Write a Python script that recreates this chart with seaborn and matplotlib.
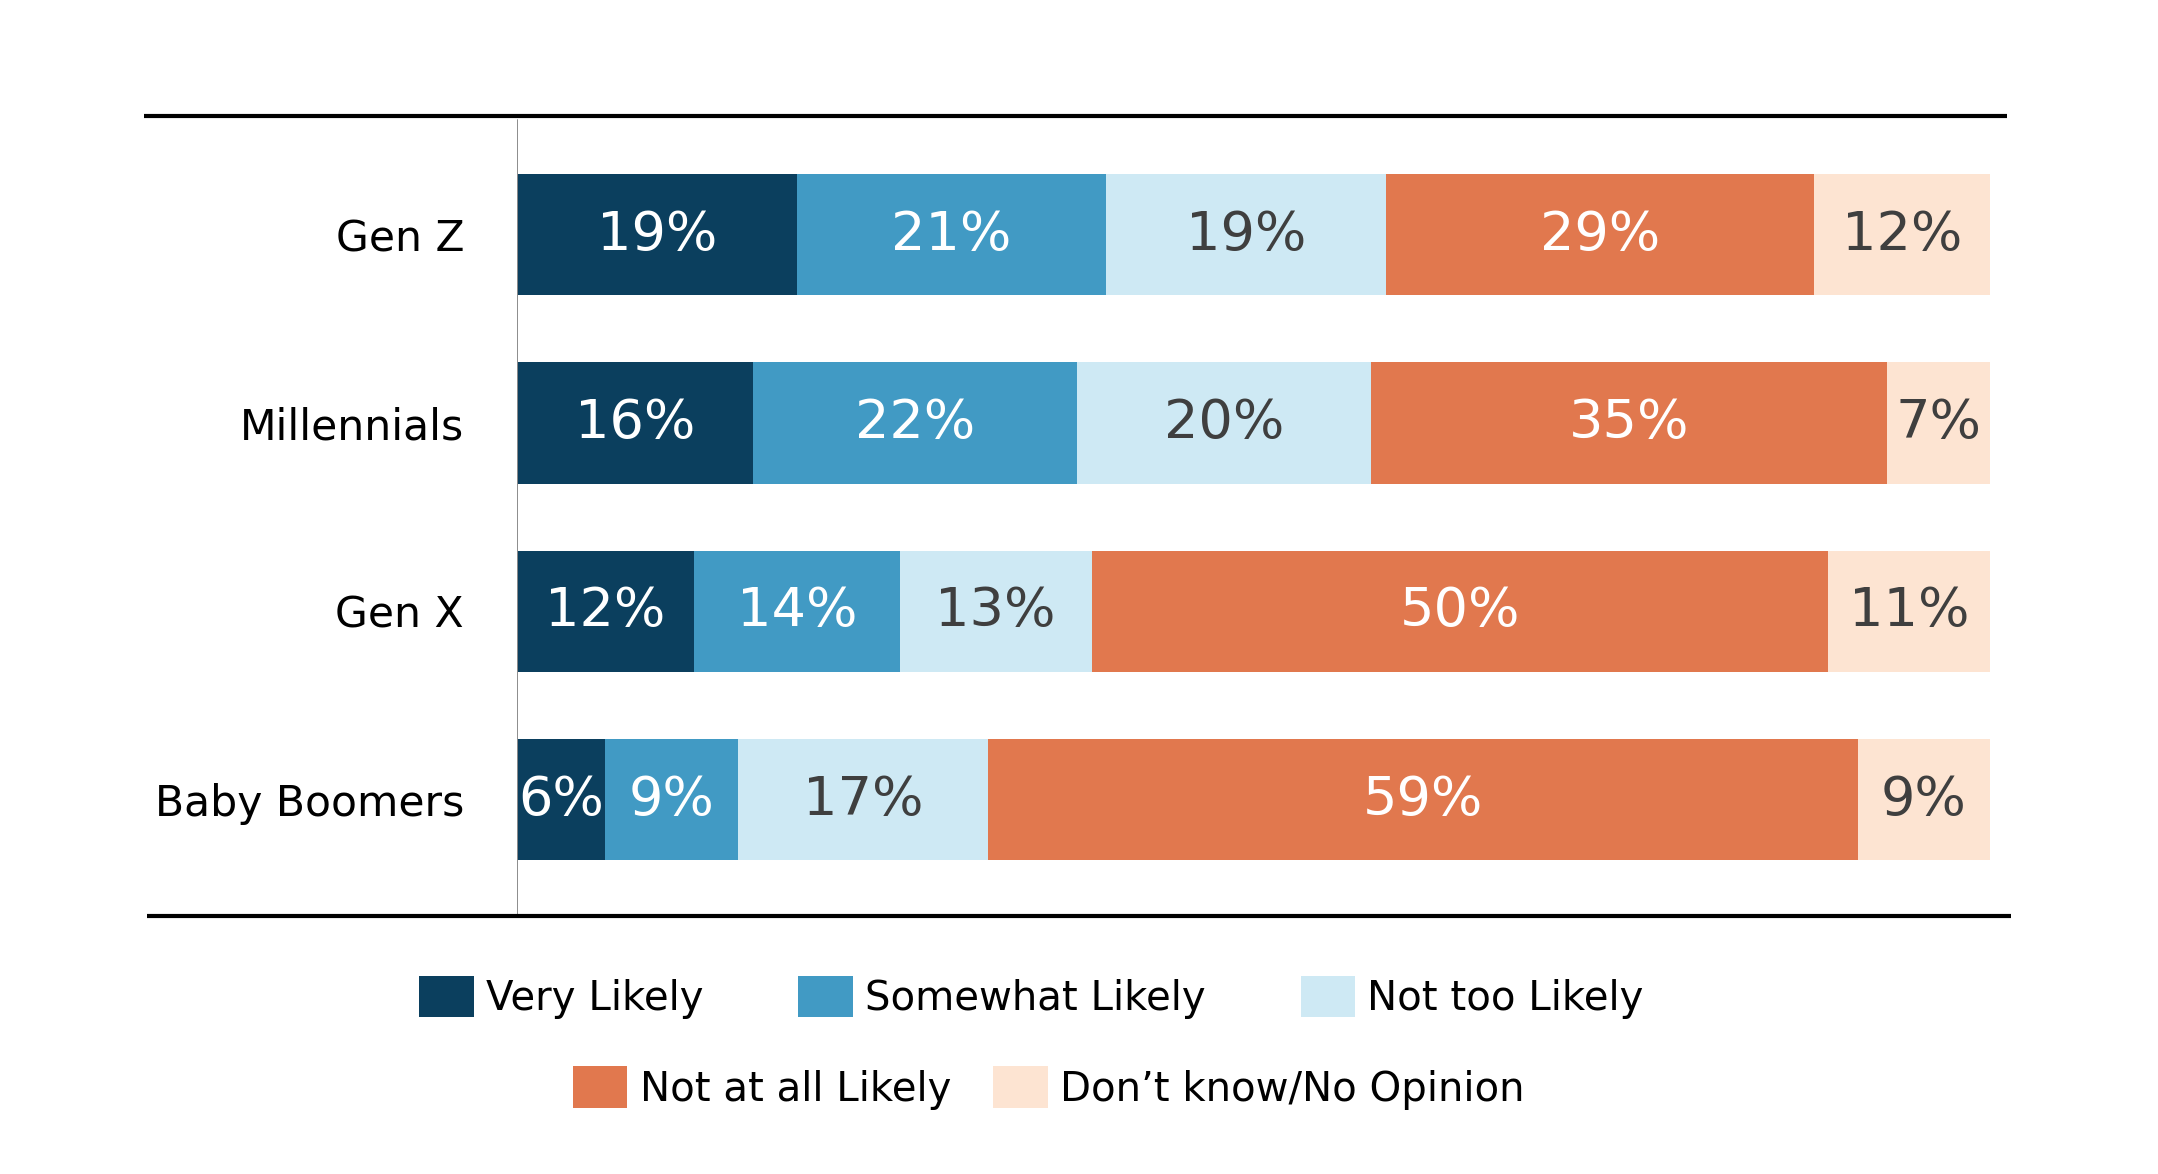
import numpy as np
import pandas as pd
import matplotlib.pyplot as plt
import seaborn as sns
from matplotlib.patches import Patch

# données
groupes = ['Gen Z', 'Millennials', 'Gen X', 'Baby Boomers']
reponses = ['Very Likely', 'Somewhat Likely', 'Not too Likely',
            'Not at all Likely', 'Don\u2019t know/No Opinion']
very_likely = [19, 16, 12, 6]
somewhat_likely = [21, 22, 14, 9]
not_too_likely = [19, 20, 13, 17]
not_at_all = [29, 35, 50, 59]
dont_know = [12, 7, 11, 9]

couleurs = ['#0B3F5E', '#419AC4', '#CEE9F4', '#E1784E', '#FDE4D2']
couleurs_texte = ['white', 'white', '#3F3F3F', 'white', '#3F3F3F']

sns.set_theme(style='white')
plt.rcParams['font.family'] = ['DejaVu Sans']
plt.rcParams['text.color'] = 'black'

valeurs = np.array([very_likely, somewhat_likely, not_too_likely,
                    not_at_all, dont_know])
cumul = valeurs.cumsum(axis=0)

fig = plt.figure(figsize=(10.79, 5.87), dpi=200)
ax = fig.add_axes([0.2395, 0.2195, 0.6906, 0.6817])

# barres empilées : on superpose les cumuls du plus grand au plus petit
for i in range(len(reponses) - 1, -1, -1):
    df = pd.DataFrame({'groupe': groupes, 'valeur': cumul[i]})
    sns.barplot(data=df, x='valeur', y='groupe', order=groupes, orient='h',
                color=couleurs[i], saturation=1, width=0.644,
                linewidth=0, ax=ax, zorder=2 + (len(reponses) - i))

# étiquettes au centre de chaque segment
for i in range(len(reponses)):
    debut = cumul[i] - valeurs[i]
    for j in range(len(groupes)):
        ax.text(debut[j] + valeurs[i][j] / 2, j, f'{valeurs[i][j]}%',
                ha='center', va='center', fontsize=19.5,
                color=couleurs_texte[i], zorder=20)

ax.set_xlim(0, 101.14)
ax.set_ylim(3.62, -0.63)
ax.set_xlabel('')
ax.set_ylabel('')
ax.set_xticks([])
ax.tick_params(axis='y', length=0, pad=19, labelsize=15.3, labelcolor='black')
for s in ax.spines.values():
    s.set_visible(False)

# lignes horizontales haut et bas + axe vertical gris
ax.plot([-25.3, 101.14], [-0.63, -0.63], color='black', lw=1.5,
        clip_on=False, zorder=30, solid_capstyle='butt')
ax.plot([-25.1, 101.4], [3.62, 3.62], color='black', lw=1.5,
        clip_on=False, zorder=30, solid_capstyle='butt')
ax.plot([0, 0], [-0.61, 3.61], color='#8C8C8C', lw=0.7, zorder=25)

# légende sur deux lignes
poignees = [Patch(facecolor=c, edgecolor='none') for c in couleurs]
fig.legend(poignees[:3], reponses[:3], loc='center', ncol=3,
           bbox_to_anchor=(0.478, 0.1505), frameon=False, fontsize=14.5,
           handlelength=1.35, handleheight=1.2, handletextpad=0.31,
           columnspacing=2.35, labelcolor='black')
fig.legend(poignees[3:], reponses[3:], loc='center', ncol=2,
           bbox_to_anchor=(0.486, 0.0732), frameon=False, fontsize=14.5,
           handlelength=1.35, handleheight=1.2, handletextpad=0.31,
           columnspacing=1.04, labelcolor='black')

fig.savefig('out.png', dpi=200, facecolor='white')
